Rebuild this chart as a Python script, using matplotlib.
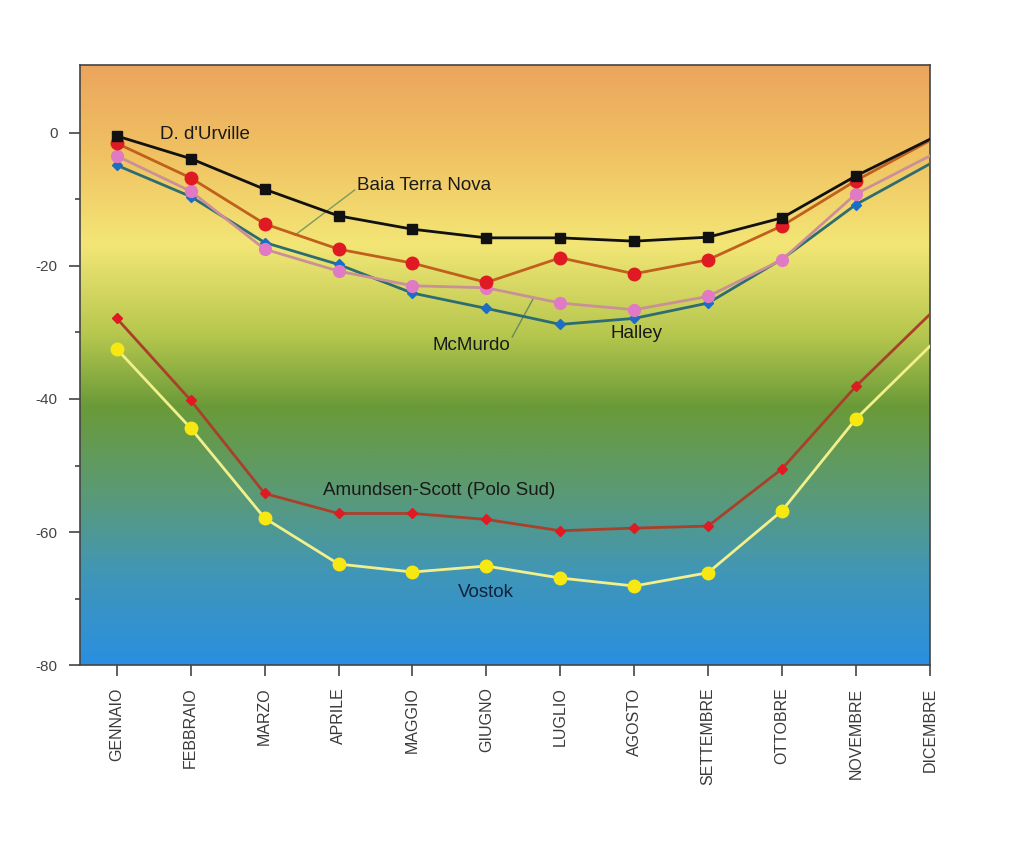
import matplotlib.pyplot as plt
import numpy as np
from matplotlib.colors import LinearSegmentedColormap

plt.rcParams['font.family'] = ['Liberation Sans', 'DejaVu Sans']
plt.rcParams['axes.unicode_minus'] = False

mesi = ['GENNAIO', 'FEBBRAIO', 'MARZO', 'APRILE', 'MAGGIO', 'GIUGNO',
        'LUGLIO', 'AGOSTO', 'SETTEMBRE', 'OTTOBRE', 'NOVEMBRE', 'DICEMBRE']

durville = [-0.5, -3.9, -8.5, -12.5, -14.5, -15.8, -15.8, -16.3, -15.7, -12.8, -6.5, -1.0]
terra_nova = [-1.6, -6.8, -13.7, -17.5, -19.6, -22.5, -18.8, -21.2, -19.1, -14.0, -7.2, -1.2]
mcmurdo = [-3.5, -8.8, -17.5, -20.8, -23.0, -23.3, -25.6, -26.6, -24.6, -19.1, -9.2, -3.5]
halley = [-4.9, -9.6, -16.5, -19.8, -24.1, -26.4, -28.8, -27.9, -25.6, -19.0, -10.8, -4.7]
amundsen = [-27.9, -40.2, -54.2, -57.2, -57.2, -58.1, -59.8, -59.4, -59.1, -50.5, -38.1, -27.3]
vostok = [-32.5, -44.4, -57.9, -64.8, -66.0, -65.1, -66.9, -68.1, -66.1, -56.8, -43.0, -32.1]

x = np.arange(len(mesi))

fig = plt.figure(figsize=(10.24, 8.41), dpi=100)
ax = fig.add_axes([0.078, 0.209, 0.830, 0.714])

# sfondo sfumato (dall'alto verso il basso)
bg = LinearSegmentedColormap.from_list('bg', [
    (0.00, '#eba55e'),
    (0.15, '#f0c262'),
    (0.30, '#f3e676'),
    (0.45, '#b6c74e'),
    (0.57, '#6a9a38'),
    (0.72, '#5a9a78'),
    (0.85, '#4096b8'),
    (1.00, '#2a8fe0'),
])
grad = np.linspace(0, 1, 256).reshape(-1, 1)
ax.imshow(grad, cmap=bg, aspect='auto', extent=[-0.5, 11, -80, 10.2],
          origin='upper', zorder=0)

me = list(range(11))  # niente marker a dicembre
ax.plot(x, durville, color='#111111', lw=2, marker='s', ms=7,
        mfc='#111111', mec='#111111', markevery=me, zorder=5)
ax.plot(x, terra_nova, color='#c0601c', lw=2, marker='o', ms=9,
        mfc='#e01a22', mec='#e01a22', markevery=me, zorder=4)
ax.plot(x, halley, color='#2d6d72', lw=2, marker='D', ms=5.5,
        mfc='#1a6ec8', mec='#1a6ec8', markevery=me, zorder=3)
ax.plot(x, mcmurdo, color='#c99098', lw=2, marker='o', ms=8.5,
        mfc='#e07ac4', mec='#e07ac4', markevery=me, zorder=3)
ax.plot(x, amundsen, color='#a8402a', lw=2, marker='D', ms=5.5,
        mfc='#e01a22', mec='#e01a22', markevery=me, zorder=4)
ax.plot(x, vostok, color='#f2f08a', lw=2, marker='o', ms=9,
        mfc='#f8e812', mec='#f8e812', markevery=me, zorder=4)

fs = 13.5
ax.text(0.58, -0.3, "D. d'Urville", fontsize=fs, va='center', color='#1a1a1a')
ax.text(3.25, -8.0, 'Baia Terra Nova', fontsize=fs, va='center', color='#1a1a1a')
ax.plot([3.22, 2.41], [-8.6, -15.4], color='#7a9a60', lw=1, zorder=2)
ax.text(4.27, -31.9, 'McMurdo', fontsize=fs, va='center', color='#1a1a1a')
ax.plot([5.35, 5.64], [-30.7, -24.8], color='#6a8a60', lw=1, zorder=2)
ax.text(6.68, -30.1, 'Halley', fontsize=fs, va='center', color='#1a1a1a')
ax.text(2.79, -53.8, 'Amundsen-Scott (Polo Sud)', fontsize=fs, va='center', color='#1a1a1a')
ax.text(4.61, -69.0, 'Vostok', fontsize=fs, va='center', color='#10233a')

ax.set_xlim(-0.5, 11)
ax.set_ylim(-80, 10.2)
ax.set_xticks(x)
ax.set_xticklabels(mesi, rotation=90, fontsize=11.5, color='#3a3a3a')
ax.set_yticks(np.arange(-80, 1, 20))
ax.set_yticks(np.arange(-70, 0, 20), minor=True)
ax.tick_params(axis='y', labelsize=11, labelcolor='#444444')
ax.tick_params(axis='both', which='major', direction='out', length=8, width=1.2,
               color='#444444')
ax.tick_params(axis='y', which='major', pad=8)
ax.tick_params(axis='y', which='minor', direction='out', length=3.5, width=1.2,
               color='#444444')
ax.tick_params(axis='x', pad=8)
for s in ax.spines.values():
    s.set_color('#444444')
    s.set_linewidth(1.2)

plt.savefig('out.png', dpi=100)
